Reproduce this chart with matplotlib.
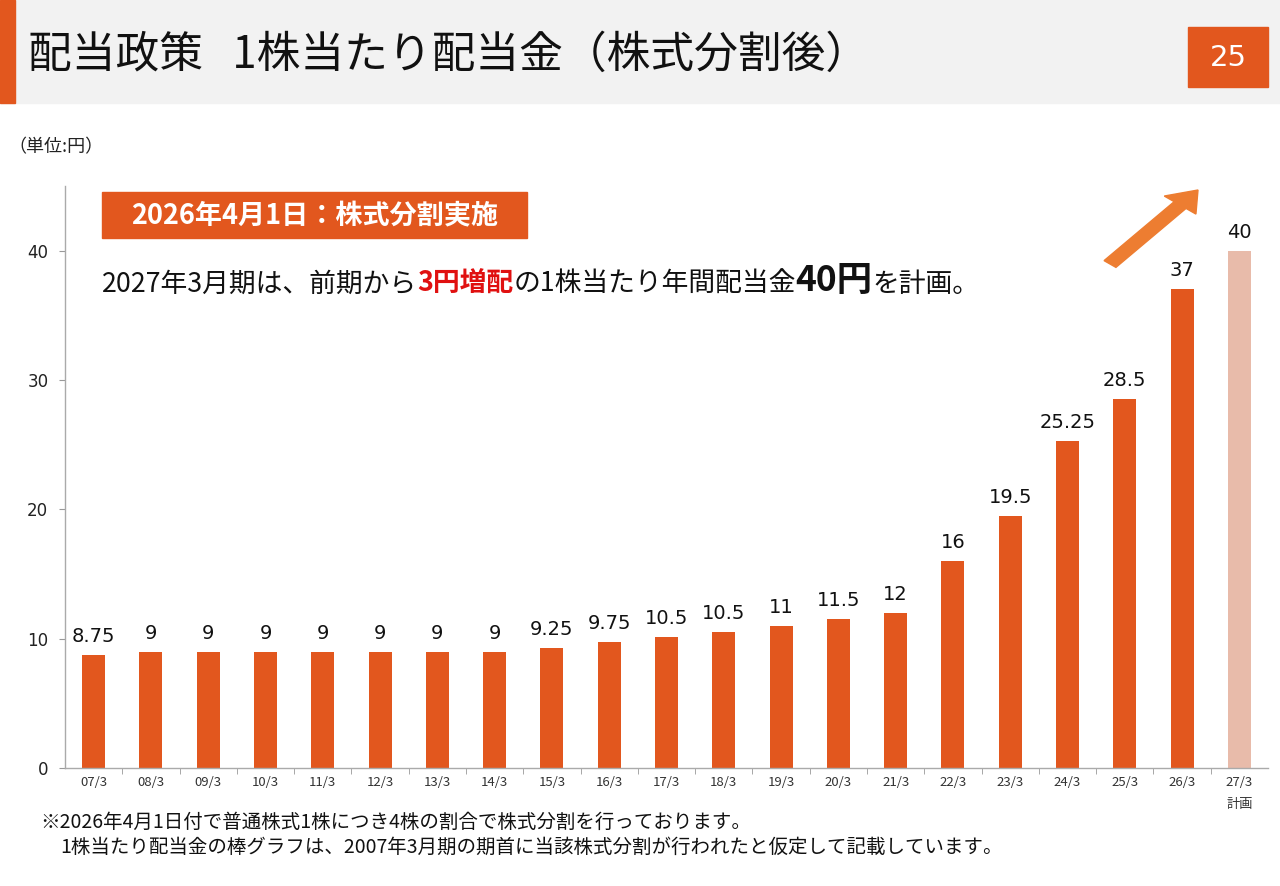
import matplotlib
matplotlib.use("Agg")
import matplotlib.pyplot as plt
from matplotlib.patches import Rectangle, FancyArrow

plt.rcParams['font.family'] = ['Noto Sans CJK JP', 'DejaVu Sans']
NUM_FONT = ['DejaVu Sans']

# fiscal years (March year-end), split-adjusted dividend per share (yen)
periods = ["07/3", "08/3", "09/3", "10/3", "11/3", "12/3", "13/3", "14/3", "15/3", "16/3",
           "17/3", "18/3", "19/3", "20/3", "21/3", "22/3", "23/3", "24/3", "25/3", "26/3", "27/3"]
dividends = [8.75, 9, 9, 9, 9, 9, 9, 9, 9.25, 9.75,
             10.125, 10.5, 11, 11.5, 12, 16, 19.5, 25.25, 28.5, 37, 40]
value_labels = ["8.75", "9", "9", "9", "9", "9", "9", "9", "9.25", "9.75",
                "10.5", "10.5", "11", "11.5", "12", "16", "19.5", "25.25", "28.5", "37", "40"]
n_plan = 1  # last bar is the plan

ORANGE = "#E2571E"
PLAN = "#E8BBAA"

W, H = 1280, 886
fig = plt.figure(figsize=(W / 100, H / 100), dpi=100)

def fx(px):
    return px / W

def fy(py):
    return 1 - py / H

# header band
fig.patches.append(Rectangle((0, fy(103)), 1, 103 / H, transform=fig.transFigure,
                             color="#F2F2F2", zorder=0))
fig.patches.append(Rectangle((0, fy(103)), fx(15), 103 / H, transform=fig.transFigure,
                             color=ORANGE, zorder=1))
fig.text(fx(28), fy(55), "配当政策   1株当たり配当金（株式分割後）", fontsize=31.5,
         va="center", ha="left", color="#111111")
fig.patches.append(Rectangle((fx(1188), fy(87)), 80 / W, 60 / H, transform=fig.transFigure,
                             color=ORANGE, zorder=1))
fig.text(fx(1228), fy(58), "25", fontsize=21, color="white", ha="center", va="center",
         family=NUM_FONT)

fig.text(fx(8), fy(147), "（単位:円）", fontsize=13, va="center", ha="left", color="#222222")

# chart
ax = fig.add_axes([fx(65), fy(768), (1268 - 65) / W, (768 - 186) / H])
colors = [ORANGE] * (len(dividends) - n_plan) + [PLAN] * n_plan
x = list(range(len(periods)))
ax.bar(x, dividends, width=0.4, color=colors, zorder=2)
for xi, v, lab in zip(x, dividends, value_labels):
    ax.text(xi, v + 0.7, lab, ha="center", va="bottom", fontsize=14, color="#111111",
            family=NUM_FONT)

ax.set_xlim(-0.5, len(periods) - 0.5)
ax.set_ylim(0, 45)
ax.set_yticks([0, 10, 20, 30, 40])
ax.tick_params(axis="y", length=4, color="#999999", labelsize=12, pad=8, labelcolor="#222222")
for t in ax.get_yticklabels():
    t.set_family(NUM_FONT)
ax.set_xticks(x)
ax.set_xticklabels([p + ("\n計画" if i >= len(periods) - n_plan else "") for i, p in enumerate(periods)],
                   fontsize=9.5, color="#333333", linespacing=1.9)
ax.tick_params(axis="x", length=0, pad=6)
ax.set_xticks([i - 0.5 for i in range(1, len(periods))], minor=True)
ax.tick_params(axis="x", which="minor", length=4, color="#999999")
for s in ["top", "right"]:
    ax.spines[s].set_visible(False)
for s in ["left", "bottom"]:
    ax.spines[s].set_color("#AAAAAA")
    ax.spines[s].set_linewidth(1.0)

# split notice box
fig.patches.append(Rectangle((fx(102), fy(238)), (527 - 102) / W, 46 / H,
                             transform=fig.transFigure, color=ORANGE, zorder=3))
fig.text(fx(315), fy(216), "2026年4月1日：株式分割実施", fontsize=19.5, fontweight="bold",
         color="white", ha="center", va="center", zorder=4)

# message line with mixed styles
parts = [("2027年3月期は、前期から", 19.3, "normal", "#111111"),
         ("3円増配", 19.3, "bold", "#E01010"),
         ("の1株当たり年間配当金", 19.3, "normal", "#111111"),
         ("40円", 25.5, "bold", "#111111"),
         ("を計画。", 19.3, "normal", "#111111")]
prev = fig.text(fx(102), fy(292), parts[0][0], fontsize=parts[0][1], fontweight=parts[0][2],
                color=parts[0][3], ha="left", va="baseline")
for txt, fs, fw, col in parts[1:]:
    prev = ax.annotate(txt, xy=(1, 0), xycoords=prev, xytext=(0, 0), textcoords="offset points",
                       fontsize=fs, fontweight=fw, color=col, ha="left", va="bottom",
                       annotation_clip=False)

# rising arrow
fig.patches.append(FancyArrow(fx(1110), fy(264), fx(1198) - fx(1110), fy(190) - fy(264),
                              width=0.012, head_width=0.032, head_length=0.022,
                              length_includes_head=True, transform=fig.transFigure,
                              color="#ED7D31", zorder=5))

# footnote
fig.text(fx(40), fy(822), "※2026年4月1日付で普通株式1株につき4株の割合で株式分割を行っております。",
         fontsize=14, va="center", ha="left", color="#111111")
fig.text(fx(60), fy(847), "1株当たり配当金の棒グラフは、2007年3月期の期首に当該株式分割が行われたと仮定して記載しています。",
         fontsize=14, va="center", ha="left", color="#111111")

fig.savefig("out.png", dpi=100)
